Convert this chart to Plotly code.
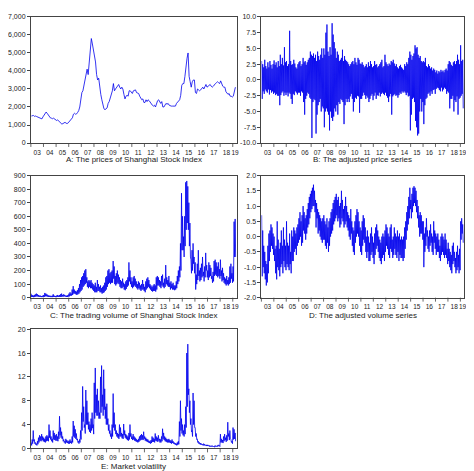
import plotly.graph_objects as go

START_YEAR = 2003
year_labels = ["03","04","05","06","07","08","09","10","11","12","13","14","15","16","17","18","19"]

# A: monthly prices of Shanghai Stock Index (Jan 2003 - Mar 2019)
price_a = [
1500,1520,1530,1480,1500,1470,1440,1400,1380,1350,1340,1450,
1550,1650,1720,1650,1550,1450,1400,1380,1350,1380,1340,1300,
1250,1280,1220,1180,1100,1050,1080,1120,1150,1100,1080,1120,
1200,1280,1300,1400,1600,1650,1600,1620,1700,1800,2000,2600,
2800,2900,3200,3500,4000,4100,3800,4500,5200,5800,5500,5200,
5000,4500,3800,3500,3600,2900,2700,2400,2100,1900,1850,1900,
1950,2200,2300,2500,2650,2900,3300,2900,3000,3100,3200,3250,
3100,3000,3100,3000,2700,2450,2600,2650,2600,2900,2900,2800,
2750,2900,2950,2950,2800,2750,2750,2600,2450,2400,2450,2250,
2250,2400,2300,2400,2350,2250,2150,2100,2050,2100,2000,2250,
2350,2400,2300,2200,2300,2000,2000,2100,2200,2150,2200,2100,
2050,2050,2050,2050,2050,2050,2200,2250,2350,2400,2650,3200,
3300,3300,3700,4400,4700,5000,3700,3400,3100,3400,3500,3500,
2800,2750,3000,2950,2900,2950,3000,3100,3000,3100,3250,3100,
3150,3200,3250,3150,3100,3150,3250,3300,3350,3400,3350,3300,
3450,3250,3150,3100,3100,2850,2800,2700,2750,2600,2600,2550,
2600,2950,3100]

# B: adjusted price series, (high, low) per month
adj_price_b = [
3.0,-3.0,2.5,-1.8,2.0,-2.2,3.2,-1.5,2.2,-1.8,1.8,-2.0,2.8,-1.5,2.0,-2.3,3.0,-1.6,2.4,-2.0,1.8,-1.8,2.5,-2.2,
3.1,-2.0,2.4,-2.4,2.8,-2.2,2.0,-2.5,3.0,-2.5,2.2,-4.0,4.0,-2.4,2.5,-2.0,3.5,-1.8,2.3,-2.5,5.2,-2.0,2.8,-2.4,
3.0,-2.0,2.2,-2.6,2.5,-2.0,7.8,-2.2,3.0,-3.0,2.4,-3.8,2.5,-2.2,3.2,-2.4,2.6,-1.8,2.0,-2.0,1.8,-2.3,2.5,-2.0,
2.8,-2.0,3.0,-2.5,2.2,-1.8,2.5,-2.0,3.5,-3.5,2.8,-5.5,3.0,-3.0,2.4,-2.5,2.8,-2.0,3.2,-2.2,3.5,-2.8,4.5,-3.0,
4.0,-9.2,3.8,-3.5,4.2,-3.0,3.5,-3.2,4.0,-8.5,3.0,-5.5,4.5,-4.0,3.8,-3.5,3.2,-3.0,4.0,-5.0,5.0,-4.2,3.5,-4.5,
5.0,-7.5,4.0,-5.0,7.5,-4.5,8.8,-5.0,4.5,-5.5,3.8,-8.0,5.2,-5.0,4.0,-6.0,9.0,-6.5,7.2,-5.8,6.0,-4.5,5.0,-5.0,
3.5,-4.0,4.5,-5.5,4.0,-3.5,3.0,-3.8,3.2,-3.0,3.5,-3.2,4.8,-3.5,3.0,-7.0,3.8,-4.0,3.2,-3.0,3.0,-3.5,2.8,-3.0,
2.5,-3.5,2.2,-2.6,2.5,-2.2,2.8,-3.0,3.0,-5.0,2.5,-3.5,3.5,-2.8,2.8,-3.0,2.4,-2.5,3.5,-2.6,3.2,-5.2,2.6,-3.0,
2.5,-3.0,2.8,-2.5,2.4,-2.0,2.0,-2.4,2.2,-3.0,2.5,-2.5,2.0,-2.8,2.8,-3.5,2.2,-3.0,3.0,-2.5,2.5,-2.2,2.0,-3.2,
2.2,-2.5,3.0,-2.0,2.4,-3.0,2.5,-2.4,2.0,-2.5,2.2,-2.0,2.5,-2.6,2.8,-2.2,3.2,-2.0,2.0,-2.2,2.2,-2.4,4.0,-2.0,
2.8,-2.5,2.5,-2.8,2.2,-3.5,2.6,-2.6,2.4,-2.2,3.0,-5.5,2.8,-2.6,3.2,-2.4,2.6,-2.2,2.2,-2.5,2.5,-2.4,2.0,-2.8,
1.8,-2.4,2.2,-2.0,2.4,-2.2,2.0,-1.8,1.8,-2.0,1.6,-1.8,2.5,-2.0,2.2,-2.4,2.8,-2.0,2.5,-2.6,3.5,-2.5,4.5,-8.0,
4.0,-5.5,3.2,-3.0,3.8,-2.8,4.2,-3.5,5.5,-6.5,5.0,-7.5,5.2,-8.8,4.0,-8.5,3.5,-5.0,3.8,-3.0,3.0,-5.0,2.8,-3.5,
3.0,-7.0,2.8,-4.0,3.5,-3.0,2.2,-2.8,2.0,-2.2,2.5,-2.0,2.2,-2.5,1.8,-1.8,2.0,-2.2,1.5,-1.6,1.8,-1.5,1.6,-2.2,
1.2,-1.4,1.5,-1.2,1.0,-1.3,1.4,-1.6,1.2,-1.8,1.6,-1.2,1.3,-1.8,1.5,-1.5,1.2,-1.2,1.6,-1.4,1.8,-2.2,1.5,-1.8,
2.5,-2.0,3.0,-4.5,2.8,-3.0,2.4,-3.0,2.2,-2.5,2.8,-5.0,3.0,-3.2,2.5,-3.5,3.0,-2.6,4.0,-5.5,3.2,-3.0,2.5,-2.8,
5.5,-2.5,3.0,-2.2,3.2,-4.5]

# C: trading volume, (high, low) per month
volume_c = [
30,5,20,5,15,3,20,5,25,8,30,10,25,8,20,5,15,5,15,4,12,4,15,5,
20,5,35,10,30,10,25,8,20,5,15,5,15,4,12,4,15,4,25,5,15,5,12,4,
15,5,20,5,15,5,20,5,25,5,30,8,20,8,25,10,20,8,15,5,15,5,20,8,
30,10,40,15,30,15,60,20,85,30,60,30,50,25,45,20,55,25,70,30,100,40,130,50,
150,60,160,80,180,90,200,100,210,110,150,80,120,70,130,80,120,70,130,70,110,60,100,50,
90,40,110,40,80,40,130,50,100,50,80,40,90,40,70,30,80,35,90,40,110,50,150,60,
160,80,200,100,210,110,180,100,190,110,200,110,270,140,230,100,160,90,180,100,200,110,170,100,
150,80,130,70,120,70,140,80,110,60,100,55,120,65,130,80,150,90,260,120,200,100,150,80,
120,70,150,80,160,90,140,80,120,70,100,60,120,70,110,60,90,50,100,60,130,60,100,50,
80,40,120,60,140,70,150,80,130,70,100,60,90,50,80,45,90,50,100,50,90,45,150,60,
160,90,150,90,130,80,120,70,160,90,170,80,110,70,140,80,240,100,150,90,130,80,160,80,
110,60,120,70,100,60,110,60,90,55,90,60,120,70,160,100,200,120,230,150,400,200,770,350,
600,350,450,300,600,380,850,500,860,550,820,500,700,380,550,300,280,180,350,200,400,250,300,180,
260,60,170,100,250,130,350,160,200,120,220,130,250,150,300,160,190,120,230,150,330,200,240,150,
200,130,260,150,240,160,220,140,160,110,190,120,270,160,280,170,260,160,230,150,260,160,210,140,
280,160,200,120,220,130,180,110,150,100,140,90,160,100,130,90,150,100,230,110,250,140,180,110,
230,120,560,300,580,300]

# D: adjusted volume series, (high, low) per month
adj_volume_d = [
0.7,-1.3,0.2,-1.0,-0.3,-1.2,-0.5,-1.4,-0.8,-1.6,-0.9,-1.5,-0.3,-1.2,0.1,-0.8,0.2,-0.5,0.4,-0.3,0.3,-0.4,0.1,-0.6,
0.0,-0.8,-0.4,-1.2,-0.3,-1.4,0.5,-1.0,-0.1,-1.1,-0.4,-1.3,-0.2,-1.0,0.2,-0.9,-0.3,-1.2,0.3,-0.8,-0.1,-1.0,-0.3,-1.1,
0.5,-0.9,-0.2,-1.0,-0.3,-1.1,0.1,-0.9,-0.5,-1.2,0.2,-0.8,0.0,-0.8,0.3,-0.5,0.2,-0.4,0.1,-0.6,0.3,-0.3,0.4,-0.2,
0.6,-0.1,0.8,0.0,0.5,-0.3,0.7,-0.2,1.0,0.2,0.8,0.1,0.6,-0.1,0.7,0.1,0.9,0.3,1.1,0.4,1.3,0.6,1.4,0.8,
1.5,0.9,1.6,1.0,1.7,1.0,1.5,0.8,1.2,0.3,1.1,0.6,0.9,0.1,0.8,0.2,0.7,0.0,0.6,-0.1,0.5,-0.2,0.6,-0.1,
0.7,-0.1,0.5,-0.3,0.4,-0.4,0.6,-0.2,0.3,-0.5,0.5,-0.3,0.6,0.0,0.8,0.1,0.9,0.2,1.1,0.4,1.2,0.5,1.3,0.6,
1.4,0.7,1.2,0.5,1.3,0.6,1.0,0.3,1.1,0.4,1.5,0.6,1.2,0.5,0.9,0.3,1.0,0.4,1.3,0.5,1.0,0.3,0.8,0.2,
0.7,0.0,0.6,-0.1,0.9,0.1,0.5,-0.3,0.3,-0.5,0.2,-0.6,0.5,-0.2,0.7,0.0,0.9,0.1,0.8,0.0,0.5,-0.3,0.3,-0.5,
0.2,-0.6,0.5,-0.3,0.7,-0.1,0.6,-0.2,0.3,-0.5,0.0,-0.7,0.2,-0.5,0.0,-0.8,-0.2,-0.8,0.1,-0.6,0.3,-0.5,0.0,-0.7,
-0.2,-0.9,0.1,-0.6,0.3,-0.4,0.4,-0.3,0.2,-0.5,0.0,-0.7,-0.1,-0.8,-0.2,-0.9,0.0,-0.7,0.1,-0.6,0.0,-0.8,0.2,-0.5,
0.4,-0.3,0.3,-0.4,0.1,-0.6,0.0,-0.7,0.3,-0.4,0.4,-0.5,-0.1,-0.7,0.0,-0.6,0.3,-0.4,0.1,-0.6,0.0,-0.7,0.2,-0.5,
0.0,-0.8,0.1,-0.6,-0.1,-0.7,0.0,-0.7,-0.1,-0.8,0.0,-0.7,0.3,-0.4,0.5,-0.1,0.8,0.2,1.0,0.4,1.3,0.6,1.6,0.9,
1.2,0.6,1.4,0.8,1.6,1.0,1.65,1.1,1.6,1.0,1.5,0.8,1.2,0.6,1.0,0.3,0.7,0.0,0.8,0.1,0.7,0.1,0.5,-0.1,
0.5,-1.0,0.1,-0.5,0.3,-0.3,0.6,0.0,0.2,-0.4,0.0,-0.5,0.2,-0.3,0.4,-0.2,0.1,-0.5,0.0,-0.6,0.5,-0.2,0.2,-0.4,
0.1,-0.6,0.0,-0.5,0.1,-0.5,-0.1,-0.7,-0.3,-0.8,0.0,-0.6,0.1,-0.5,0.0,-0.6,-0.1,-0.7,0.1,-0.6,-0.1,-0.7,-0.4,-0.9,
-0.2,-0.8,-0.4,-1.0,-0.5,-1.1,-0.6,-1.2,-0.3,-0.9,-0.2,-0.8,-0.5,-1.0,-0.7,-1.2,-0.5,-1.1,-0.3,-1.0,-0.6,-1.2,-0.4,-1.1,
0.5,-0.1,0.6,0.1,0.4,-0.2]

# E: market volatility, (high, low) per month
volatility_e = [
1.0,0.5,1.5,0.8,3.0,1.2,1.5,0.8,1.0,0.6,0.8,0.5,1.2,0.7,1.8,1.0,2.2,1.3,2.0,1.2,2.4,1.4,2.0,1.2,
1.8,1.1,1.6,1.0,2.0,1.2,2.2,1.3,2.0,1.2,4.0,1.8,3.0,1.5,2.0,1.2,1.6,1.0,3.0,1.5,2.6,1.4,2.2,1.3,
2.4,1.3,2.0,1.2,2.8,1.6,5.4,2.2,3.5,1.8,2.8,1.6,2.0,1.2,1.5,1.0,1.2,0.8,1.6,1.0,1.4,0.9,1.2,0.8,
1.3,0.8,1.5,0.9,1.2,0.8,2.0,1.0,4.6,2.0,3.8,1.8,3.2,1.6,2.5,1.4,1.6,1.0,1.2,0.8,1.5,1.0,3.0,1.5,
6.0,3.0,10.4,4.5,7.0,3.5,4.0,2.5,9.8,4.0,8.0,4.0,6.0,3.2,4.5,2.8,4.0,2.6,5.0,3.0,6.0,3.4,4.0,2.4,
11.0,5.0,13.5,6.0,9.0,5.5,10.0,5.5,8.0,5.0,6.0,5.0,12.0,6.0,13.9,7.0,9.0,5.5,13.2,6.5,10.0,5.0,7.0,4.0,
7.5,4.0,5.0,3.0,4.0,2.5,3.0,2.0,2.5,1.6,4.0,2.0,9.2,3.5,6.0,3.0,4.0,2.4,3.0,2.0,2.6,1.8,2.4,1.6,
4.0,2.0,3.5,2.0,2.6,1.7,2.4,1.6,4.1,2.2,3.0,1.8,2.4,1.6,2.2,1.4,2.0,1.3,2.6,1.5,4.0,2.0,2.5,1.6,
2.0,1.4,2.4,1.5,2.0,1.3,1.8,1.2,1.6,1.1,1.4,1.0,1.6,1.1,2.0,1.3,2.2,1.4,2.4,1.5,2.2,1.4,2.8,1.6,
2.0,1.3,1.8,1.2,1.6,1.1,1.5,1.0,1.3,0.9,1.2,0.8,1.4,0.9,2.0,1.1,1.8,1.1,1.6,1.0,2.5,1.3,2.0,1.2,
1.8,1.1,2.2,1.3,1.6,1.0,1.5,1.0,2.0,1.2,3.3,1.6,2.6,1.4,2.0,1.2,1.8,1.1,1.6,1.0,1.5,1.0,1.6,1.0,
1.4,0.9,1.3,0.8,1.5,0.9,1.2,0.8,1.0,0.7,0.9,0.6,0.8,0.5,1.0,0.6,1.2,0.7,4.5,2.0,8.0,3.0,5.0,2.5,
4.0,2.2,3.0,2.0,4.0,2.4,7.0,3.5,16.0,7.0,17.5,9.0,10.0,6.0,8.0,4.0,5.0,2.8,3.0,2.0,9.3,4.0,8.0,3.5,
3.5,2.0,2.5,1.5,1.6,1.0,1.2,0.8,1.0,0.7,0.9,0.6,0.8,0.6,0.7,0.5,0.8,0.5,0.7,0.5,0.6,0.4,0.6,0.4,
0.6,0.4,0.5,0.3,0.5,0.3,0.4,0.3,0.5,0.3,0.4,0.3,0.4,0.2,0.5,0.3,0.4,0.3,0.5,0.3,0.6,0.4,0.5,0.3,
2.4,1.0,1.6,1.0,1.4,0.9,2.0,1.2,2.4,1.4,1.8,1.1,2.2,1.3,4.4,2.0,2.5,1.4,3.0,1.6,1.5,1.0,1.2,0.8,
3.5,1.5,3.2,1.6,2.6,1.2]

titles = ["A: The prices of Shanghai Stock Index", "B: The adjusted price series",
          "C: The trading volume of Shanghai Stock Index", "D: The adjusted volume series",
          "E: Market volatility"]

def monthly_x(n):
    return [START_YEAR + (i + 0.5) / 12 for i in range(n)]

def pair_x(n):
    return [START_YEAR + (i // 2 + (0.25 if i % 2 == 0 else 0.75)) / 12 for i in range(n)]

W, H = 474, 471
def fx(p): return p / W
def fy(p): return 1 - p / H

panels = [
    dict(x=monthly_x(len(price_a)), y=price_a, xd=(22, 229), yd=(5, 133), yr=[0, 7000],
         tv=[0,1000,2000,3000,4000,5000,6000,7000], tt=["0","1,000","2,000","3,000","4,000","5,000","6,000","7,000"], ty=150),
    dict(x=pair_x(len(adj_price_b)), y=adj_price_b, xd=(254, 458), yd=(5, 133), yr=[-10, 10],
         tv=[-10,-7.5,-5,-2.5,0,2.5,5,7.5,10], tt=["-10.0","-7.5","-5.0","-2.5","0.0","2.5","5.0","7.5","10.0"], ty=150),
    dict(x=pair_x(len(volume_c)), y=volume_c, xd=(22, 229), yd=(166, 290), yr=[0, 900],
         tv=list(range(0, 901, 100)), tt=[str(v) for v in range(0, 901, 100)], ty=308),
    dict(x=pair_x(len(adj_volume_d)), y=adj_volume_d, xd=(254, 458), yd=(166, 290), yr=[-2, 2],
         tv=[-2,-1.5,-1,-0.5,0,0.5,1,1.5,2], tt=["-2.0","-1.5","-1.0","-0.5","0.0","0.5","1.0","1.5","2.0"], ty=308),
    dict(x=pair_x(len(volatility_e)), y=volatility_e, xd=(22, 229), yd=(322, 443), yr=[0, 20],
         tv=[0,4,8,12,16,20], tt=["0","4","8","12","16","20"], ty=461),
]

XR = [2003, 2019.3]
fig = go.Figure()
annotations = []
shapes = []
label_vals = [START_YEAR + k + 0.5 for k in range(16)] + [2019.18]
boundary_vals = [START_YEAR + k for k in range(17)]
layout_axes = {}
for i, p in enumerate(panels):
    sfx = "" if i == 0 else str(i + 1)
    fig.add_trace(go.Scatter(x=p["x"], y=p["y"], mode="lines",
                             line=dict(color="#0000ee", width=0.8),
                             xaxis="x" + sfx, yaxis="y" + sfx, showlegend=False))
    dom = [fx(p["xd"][0]), fx(p["xd"][1])]
    layout_axes["xaxis" + sfx] = dict(domain=dom, anchor="y" + sfx, range=XR,
        tickvals=label_vals, ticktext=year_labels, tickangle=0, ticks="outside",
        ticklen=3, tickcolor="rgba(0,0,0,0)",
        showgrid=False, zeroline=False, showline=True, mirror=True,
        linecolor="#444", linewidth=0.8, tickfont=dict(size=6.5, color="#222"))
    layout_axes["yaxis" + sfx] = dict(domain=[fy(p["yd"][1]), fy(p["yd"][0])], anchor="x" + sfx,
        range=p["yr"], tickvals=p["tv"], ticktext=p["tt"], ticks="outside",
        ticklen=3, tickcolor="#444", showgrid=False, zeroline=False,
        showline=True, mirror=True, linecolor="#444", linewidth=0.8,
        tickfont=dict(size=7, color="#222"))
    for b in boundary_vals:
        xp = dom[0] + (b - XR[0]) / (XR[1] - XR[0]) * (dom[1] - dom[0])
        shapes.append(dict(type="line", xref="paper", yref="paper",
                           x0=xp, x1=xp, y0=fy(p["yd"][1]), y1=fy(p["yd"][1] + 4),
                           line=dict(color="#444", width=0.8)))
    annotations.append(dict(text=titles[i], xref="paper", yref="paper",
                            x=(dom[0] + dom[1]) / 2, y=fy(p["ty"]),
                            xanchor="center", yanchor="middle",
                            showarrow=False, font=dict(size=8, color="#222")))

fig.update_layout(**layout_axes)
fig.update_layout(width=W, height=H, margin=dict(l=0, r=0, t=0, b=0),
                  paper_bgcolor="white", plot_bgcolor="white",
                  font=dict(family="Liberation Sans, Arial, sans-serif"),
                  annotations=annotations, shapes=shapes)
fig.write_html("out.html")
